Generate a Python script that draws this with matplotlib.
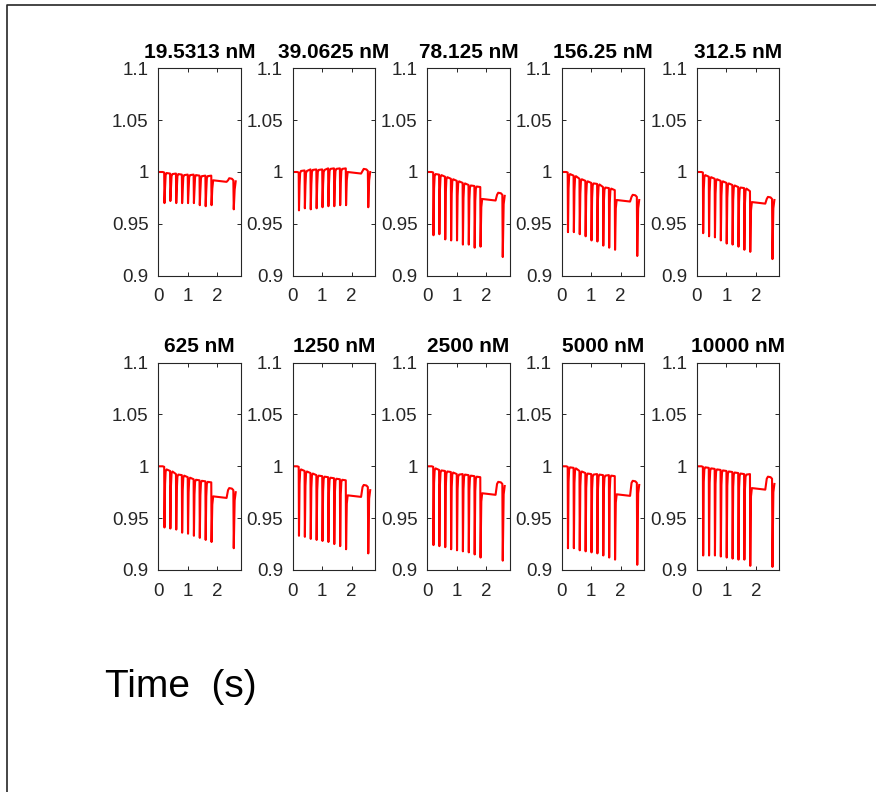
import matplotlib
matplotlib.use('Agg')
import matplotlib.pyplot as plt
from matplotlib.lines import Line2D

plt.rcParams['font.family'] = ['Liberation Sans', 'DejaVu Sans']

# concentrations shown in the panel titles
titles = ['19.5313 nM', '39.0625 nM', '78.125 nM', '156.25 nM', '312.5 nM',
          '625 nM', '1250 nM', '2500 nM', '5000 nM', '10000 nM']

# times (s) of the stimulation dips, the last one comes after a pause
spike_t = [0.2, 0.4, 0.6, 0.8, 1.0, 1.2, 1.4, 1.6, 1.8, 2.55]

# level reached after each of the first eight dips
tops = [
    [0.999, 0.998, 0.998, 0.997, 0.997, 0.997, 0.996, 0.996],
    [1.001, 1.001, 1.002, 1.002, 1.002, 1.003, 1.003, 1.003],
    [0.998, 0.997, 0.995, 0.993, 0.991, 0.989, 0.987, 0.986],
    [0.998, 0.996, 0.993, 0.991, 0.989, 0.988, 0.985, 0.984],
    [0.997, 0.995, 0.993, 0.991, 0.989, 0.987, 0.985, 0.984],
    [0.997, 0.995, 0.992, 0.991, 0.989, 0.987, 0.986, 0.985],
    [0.997, 0.995, 0.993, 0.991, 0.990, 0.989, 0.988, 0.987],
    [0.998, 0.996, 0.995, 0.994, 0.992, 0.992, 0.991, 0.990],
    [0.999, 0.998, 0.995, 0.993, 0.992, 0.992, 0.991, 0.991],
    [0.999, 0.998, 0.997, 0.996, 0.995, 0.994, 0.993, 0.992],
]

# minimum of each dip (ten per panel)
mins = [
    [0.970, 0.972, 0.970, 0.970, 0.970, 0.970, 0.968, 0.967, 0.968, 0.964],
    [0.963, 0.965, 0.964, 0.965, 0.966, 0.967, 0.967, 0.968, 0.968, 0.966],
    [0.939, 0.940, 0.935, 0.934, 0.934, 0.930, 0.930, 0.927, 0.928, 0.918],
    [0.942, 0.942, 0.940, 0.938, 0.934, 0.933, 0.929, 0.927, 0.925, 0.919],
    [0.941, 0.938, 0.937, 0.934, 0.931, 0.930, 0.928, 0.925, 0.923, 0.916],
    [0.941, 0.940, 0.939, 0.936, 0.935, 0.933, 0.931, 0.929, 0.927, 0.921],
    [0.933, 0.932, 0.930, 0.929, 0.928, 0.927, 0.925, 0.923, 0.920, 0.916],
    [0.924, 0.923, 0.922, 0.920, 0.919, 0.918, 0.917, 0.915, 0.912, 0.909],
    [0.921, 0.921, 0.919, 0.918, 0.917, 0.916, 0.914, 0.912, 0.910, 0.905],
    [0.914, 0.914, 0.914, 0.913, 0.912, 0.911, 0.910, 0.910, 0.904, 0.903],
]

# level just before the ninth dip, plateau in the pause, bump before the last dip, final level
pre_last = [0.996, 1.003, 0.985, 0.982, 0.981, 0.984, 0.986, 0.989, 0.990, 0.992]
plateau = [0.992, 1.000, 0.974, 0.973, 0.971, 0.971, 0.972, 0.974, 0.973, 0.979]
bump = [0.994, 1.003, 0.980, 0.978, 0.976, 0.979, 0.982, 0.985, 0.986, 0.990]
final = [0.991, 1.000, 0.977, 0.973, 0.973, 0.975, 0.977, 0.981, 0.982, 0.983]


def build_trace(k):
    t = [0.0, 0.15, spike_t[0]]
    y = [1.0, 1.0, 0.9995]
    for i in range(8):
        ti = spike_t[i]
        nxt = tops[k][i + 1] if i < 7 else pre_last[k]
        t += [ti + 0.01, ti + 0.03, ti + 0.05, ti + 0.08, spike_t[i + 1]]
        y += [mins[k][i], tops[k][i] - 0.014, tops[k][i] - 0.002, tops[k][i], nxt + 0.0005]
    ti = spike_t[8]
    t += [ti + 0.01, ti + 0.035, ti + 0.065, 2.32, 2.37, 2.41, 2.5, spike_t[9],
          spike_t[9] + 0.014, spike_t[9] + 0.045, 2.63]
    y += [mins[k][8], plateau[k] - 0.008, plateau[k], plateau[k] - 0.0015,
          bump[k] - 0.002, bump[k], bump[k] - 0.0005, bump[k] - 0.002,
          mins[k][9], final[k] - 0.008, final[k]]
    return t, y


W, H = 876, 792
fig = plt.figure(figsize=(W / 100, H / 100), dpi=100)

lefts = [158.3, 292.8, 427.3, 561.8, 697.0]
row_bottoms = [275.7, 570.0]
aw, ah = 82.4, 207.4

for k, title in enumerate(titles):
    r, c = divmod(k, 5)
    ax = fig.add_axes([lefts[c] / W, 1 - row_bottoms[r] / H, aw / W, ah / H])
    t, y = build_trace(k)
    ax.plot(t, y, color='#ff0000', lw=1.5)
    ax.set_xlim(0, 2.8)
    ax.set_ylim(0.9, 1.1)
    ax.set_xticks([0, 1, 2])
    ax.set_xticklabels(['0', '1', '2'])
    ax.set_yticks([0.9, 0.95, 1.0, 1.05, 1.1])
    ax.set_yticklabels(['0.9', '0.95', '1', '1.05', '1.1'])
    ax.tick_params(direction='in', length=3, width=0.7, color='#262626',
                   labelcolor='#262626', labelsize=13.5, top=True, right=True)
    ax.tick_params(axis='y', pad=7)
    ax.tick_params(axis='x', pad=9)
    for s in ax.spines.values():
        s.set_color('#262626')
        s.set_linewidth(0.8)
    ax.set_title(title, fontsize=15, fontweight='bold', pad=7.5)

fig.text(105 / W, 1 - 697 / H, 'Time  (s)', fontsize=28, ha='left', va='baseline')

# outer frame, only its top and left edges fall inside the picture
fig.add_artist(Line2D([6.5 / W, 6.5 / W, 1.0], [0.0, 1 - 4.5 / H, 1 - 4.5 / H],
                      transform=fig.transFigure, color='#262626', lw=1.2))

fig.savefig('out.png', dpi=100)
